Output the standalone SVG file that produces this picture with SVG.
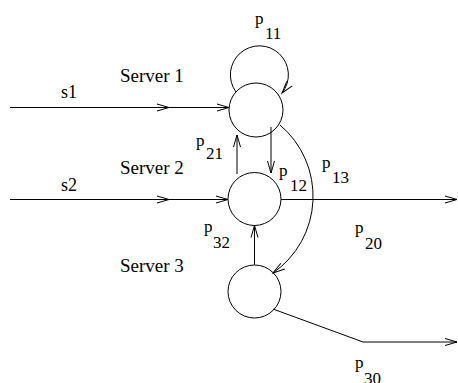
<svg xmlns="http://www.w3.org/2000/svg" width="458" height="383" viewBox="0 0 458 383">
<style>
.n{fill:none;stroke:#000;stroke-width:1}
.c{fill:none;stroke:#000;stroke-width:1}
text{font-family:"Liberation Serif","Times New Roman",serif;fill:#000}
.lbl{font-size:19px}
.s{font-size:18px}
.p{font-size:17px}
</style>
<defs>
<marker id="ah" markerUnits="userSpaceOnUse" markerWidth="14" markerHeight="10" refX="12" refY="4" orient="auto" overflow="visible">
<path d="M0,0.5 L12,4 L0,7.5" fill="none" stroke="#000" stroke-width="1"/>
</marker>
</defs>
<rect width="458" height="383" fill="#fff"/>
<g id="connectors">
<line class="c" x1="10" y1="107.5" x2="169" y2="107.5" marker-end="url(#ah)"/>
<line class="c" x1="169" y1="107.5" x2="229" y2="107.5" marker-end="url(#ah)"/>
<line class="c" x1="10" y1="199.5" x2="169" y2="199.5" marker-end="url(#ah)"/>
<line class="c" x1="169" y1="199.5" x2="228" y2="199.5" marker-end="url(#ah)"/>
<path class="c" d="M236 92 A29 29 0 1 1 282 93" marker-end="url(#ah)"/>
<line class="c" x1="237" y1="174" x2="237" y2="135" marker-end="url(#ah)"/>
<line class="c" x1="271" y1="127" x2="271" y2="173" marker-end="url(#ah)"/>
<path class="c" d="M280 125 A93.4 93.4 0 0 1 273 273" marker-end="url(#ah)"/>
<line class="c" x1="254.5" y1="265" x2="254.5" y2="225.5" marker-end="url(#ah)"/>
<line class="c" x1="281" y1="199.5" x2="457" y2="199.5" marker-end="url(#ah)"/>
<polyline class="c" points="273,309 363,342 457,342" marker-end="url(#ah)"/>
</g>
<g id="server1">
<circle class="n" cx="256" cy="110" r="27"/>
<text class="lbl" x="120" y="82">Server 1</text>
</g>
<g id="server2">
<circle class="n" cx="254.5" cy="199" r="26.5"/>
<text class="lbl" x="120" y="174">Server 2</text>
</g>
<g id="server3">
<circle class="n" cx="254.5" cy="291.5" r="26.5"/>
<text class="lbl" x="120" y="272">Server 3</text>
</g>
<g id="labels">
<text class="s" x="61" y="98">s1</text>
<text class="s" x="61" y="191">s2</text>
<text class="p" x="255" y="24">p</text><text class="p" x="265" y="39">11</text>
<text class="p" x="196" y="146">p</text><text class="p" x="206" y="159">21</text>
<text class="p" x="279" y="176">p</text><text class="p" x="290" y="191">12</text>
<text class="p" x="322" y="168">p</text><text class="p" x="332" y="183">13</text>
<text class="p" x="204" y="232">p</text><text class="p" x="213" y="248">32</text>
<text class="p" x="355" y="233">p</text><text class="p" x="365" y="249">20</text>
<text class="p" x="355" y="368">p</text><text class="p" x="364" y="384">30</text>
</g>
</svg>
